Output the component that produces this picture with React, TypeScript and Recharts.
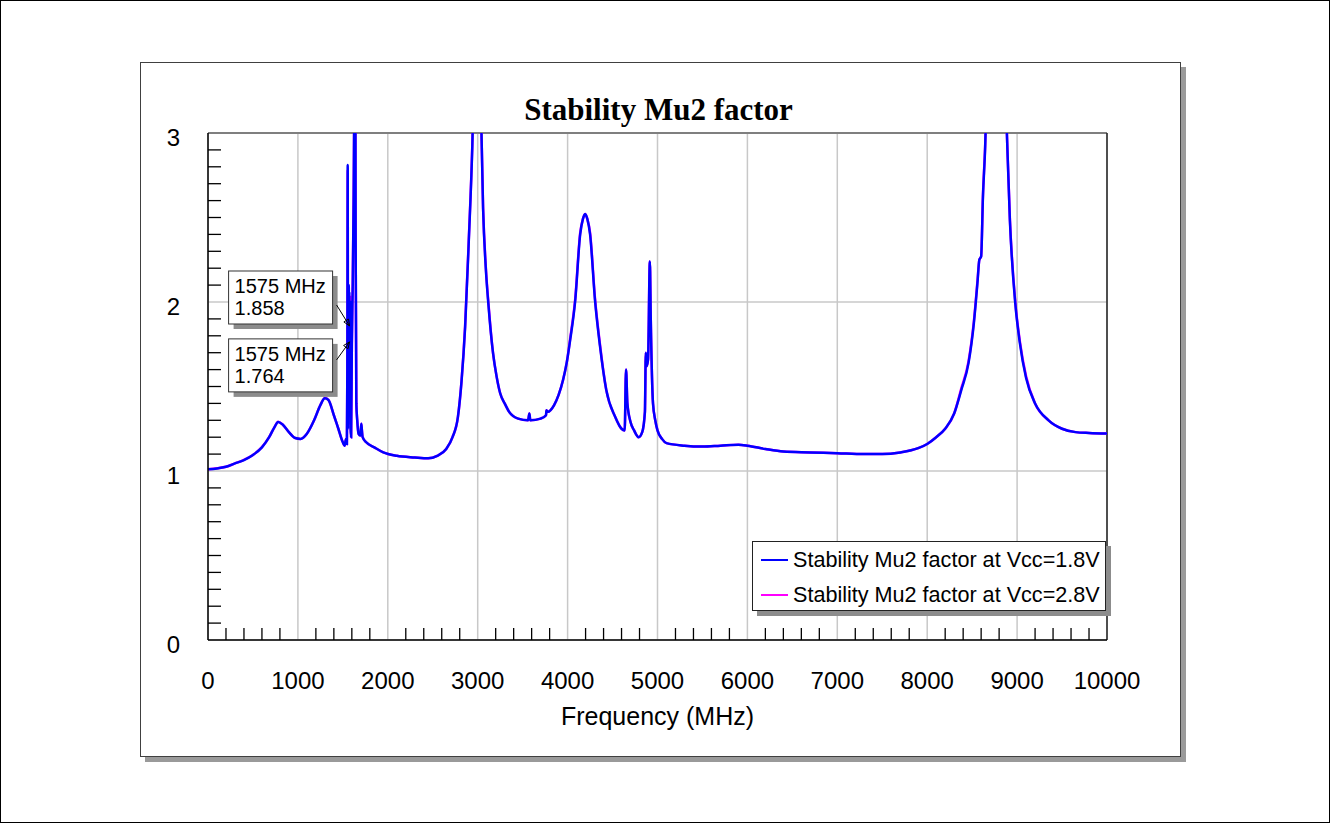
import {
  CartesianGrid,
  Line,
  LineChart,
  ReferenceDot,
  ReferenceLine,
  XAxis,
  YAxis,
} from "recharts";

const SANS = '"Liberation Sans", Arial, sans-serif';
const SERIF = '"Liberation Serif", "Times New Roman", serif';

// sweep frequencies (MHz)
const freqs = [
  0, 100, 200, 300, 400, 500, 600, 680, 740, 780, 830, 900, 970, 1030, 1100,
  1180, 1250, 1300, 1340, 1400, 1450, 1500, 1520, 1535, 1545, 1550, 1554, 1557,
  1560, 1563, 1566, 1569, 1572, 1575, 1578, 1582, 1586, 1592, 1600, 1610, 1620,
  1630, 1636, 1642, 1650, 1660, 1675, 1695, 1705, 1712, 1720, 1760, 1850, 1950,
  2100, 2300, 2450, 2550, 2650, 2720, 2780, 2820, 2860, 2900, 2940, 2970, 3000,
  3030, 3060, 3090, 3120, 3170, 3210, 3250, 3300, 3350, 3450, 3560, 3575, 3585,
  3700, 3760, 3765, 3780, 3850, 3900, 3950, 3990, 4030, 4085, 4140, 4170, 4195,
  4220, 4250, 4305, 4360, 4430, 4530, 4600, 4635, 4650, 4665, 4700, 4740, 4790,
  4830, 4860, 4870, 4880, 4895, 4915, 4925, 4950, 4975, 5000, 5050, 5100, 5300,
  5500, 5700, 5900, 6000, 6200, 6400, 6700, 7000, 7300, 7500, 7700, 7900, 8000,
  8100, 8200, 8300, 8380, 8460, 8520, 8560, 8580, 8600, 8620, 8645, 8670, 8780,
  8880, 8920, 8980, 9030, 9100, 9200, 9350, 9500, 9650, 9800, 10000,
];

// Mu2 at Vcc = 1.8 V
const mu2Vcc18 = [
  1.01, 1.015, 1.025, 1.045, 1.065, 1.095, 1.14, 1.2, 1.26, 1.29, 1.275, 1.23,
  1.195, 1.19, 1.22, 1.3, 1.39, 1.43, 1.42, 1.33, 1.25, 1.17, 1.15, 1.19, 1.16,
  1.6, 2.81, 1.25, 2.08, 1.55, 2.1, 1.7, 2.05, 1.858, 1.6, 2.0, 1.25, 1.2, 1.75,
  2.1, 2.6, 3.4, 4.2, 2.4, 1.4, 1.3, 1.22, 1.21, 1.28, 1.24, 1.2, 1.17, 1.14,
  1.11, 1.09, 1.08, 1.075, 1.09, 1.13, 1.2, 1.32, 1.53, 1.85, 2.35, 2.92, 3.6,
  4.5, 3.3, 2.55, 2.2, 1.98, 1.7, 1.56, 1.46, 1.4, 1.35, 1.31, 1.3, 1.34, 1.3,
  1.31, 1.33, 1.36, 1.35, 1.39, 1.45, 1.54, 1.64, 1.78, 2.01, 2.4, 2.49, 2.52,
  2.49, 2.4, 2.01, 1.74, 1.48, 1.32, 1.25, 1.24, 1.6, 1.4, 1.29, 1.24, 1.2,
  1.23, 1.35, 1.7, 1.62, 1.66, 2.24, 1.9, 1.4, 1.3, 1.24, 1.19, 1.165, 1.15,
  1.145, 1.15, 1.155, 1.15, 1.13, 1.115, 1.11, 1.105, 1.1, 1.1, 1.11, 1.135,
  1.16, 1.2, 1.25, 1.34, 1.48, 1.64, 1.88, 2.12, 2.25, 2.27, 2.62, 2.92, 3.4,
  4.5, 3.1, 2.48, 1.99, 1.76, 1.55, 1.4, 1.3, 1.25, 1.23, 1.225, 1.222,
];

// Mu2 at Vcc = 2.8 V
const mu2Vcc28 = [
  1.01, 1.016, 1.025, 1.045, 1.066, 1.095, 1.141, 1.2, 1.26, 1.292, 1.275,
  1.23, 1.195, 1.19, 1.221, 1.3, 1.39, 1.432, 1.42, 1.33, 1.25, 1.17, 1.15,
  1.19, 1.16, 1.58, 2.78, 1.27, 2.02, 1.6, 2.06, 1.72, 2.0, 1.764, 1.64, 2.03,
  1.27, 1.2, 1.76, 2.12, 2.62, 3.4, 4.2, 2.42, 1.4, 1.3, 1.22, 1.21, 1.28,
  1.24, 1.2, 1.17, 1.14, 1.11, 1.09, 1.08, 1.075, 1.09, 1.13, 1.2, 1.32, 1.53,
  1.86, 2.36, 2.93, 3.6, 4.5, 3.3, 2.56, 2.21, 1.99, 1.7, 1.56, 1.46, 1.4,
  1.35, 1.31, 1.3, 1.34, 1.3, 1.31, 1.33, 1.36, 1.35, 1.39, 1.45, 1.54, 1.64,
  1.79, 2.02, 2.41, 2.49, 2.52, 2.49, 2.41, 2.02, 1.75, 1.48, 1.32, 1.25, 1.24,
  1.6, 1.4, 1.29, 1.24, 1.2, 1.23, 1.35, 1.7, 1.62, 1.66, 2.24, 1.9, 1.4, 1.3,
  1.24, 1.19, 1.165, 1.15, 1.145, 1.15, 1.155, 1.15, 1.13, 1.115, 1.11, 1.105,
  1.1, 1.1, 1.11, 1.135, 1.16, 1.2, 1.25, 1.34, 1.49, 1.65, 1.89, 2.13, 2.25,
  2.27, 2.63, 2.93, 3.4, 4.5, 3.1, 2.49, 2.0, 1.77, 1.56, 1.4, 1.3, 1.25, 1.23,
  1.225, 1.222,
];

const xMajorTicks = [0, 1000, 2000, 3000, 4000, 5000, 6000, 7000, 8000, 9000, 10000];
const yMajorTicks = [0, 1, 2, 3];
const xAllTicks = Array.from({ length: 51 }, (_, i) => i * 200);
const yAllTicks = Array.from({ length: 31 }, (_, i) => i / 10);

const markerFreq = 1575;
const markerVcc18 = 1.858;
const markerVcc28 = 1.764;

const legendItems = [
  { label: "Stability Mu2 factor at Vcc=1.8V", color: "#0000ff" },
  { label: "Stability Mu2 factor at Vcc=2.8V", color: "#ff00ff" },
];

const data = freqs.map((f, i) => ({ f, a: mu2Vcc18[i], b: mu2Vcc28[i] }));

function XTick(props: any) {
  const { x, y, payload } = props;
  const v = payload.value as number;
  if (v % 1000 === 0) {
    return (
      <text
        x={x}
        y={y + 40}
        textAnchor="middle"
        dominantBaseline="central"
        fontFamily={SANS}
        fontSize={24}
        fill="#000"
      >
        {v}
      </text>
    );
  }
  return <line x1={x} x2={x} y1={y} y2={y - 12} stroke="#000" strokeWidth={1.3} />;
}

function YTick(props: any) {
  const { x, y, payload } = props;
  const v = payload.value as number;
  if (Number.isInteger(v)) {
    return (
      <text
        x={x - 28}
        y={y + 4}
        textAnchor="end"
        dominantBaseline="central"
        fontFamily={SANS}
        fontSize={24}
        fill="#000"
      >
        {v}
      </text>
    );
  }
  return <line x1={x} x2={x + 13} y1={y} y2={y} stroke="#000" strokeWidth={1.3} />;
}

// callout box with an arrow pointing at (cx, cy)
function Callout({
  cx,
  cy,
  boxDy,
  arrowFrom,
  lines,
}: {
  cx: number;
  cy: number;
  boxDy: number;
  arrowFrom: [number, number];
  lines: string[];
}) {
  const bx = cx - 121;
  const by = cy + boxDy;
  const w = 104;
  const h = 53;
  const sx = cx + arrowFrom[0];
  const sy = cy + arrowFrom[1];
  const ang = Math.atan2(cy - sy, cx - sx);
  const ah = 7;
  const p1 = [cx - ah * Math.cos(ang - 0.4), cy - ah * Math.sin(ang - 0.4)];
  const p2 = [cx - ah * Math.cos(ang + 0.4), cy - ah * Math.sin(ang + 0.4)];
  return (
    <g>
      <rect x={bx + 5} y={by + 5} width={w} height={h} fill="#8c8c8c" />
      <rect x={bx} y={by} width={w} height={h} fill="#fff" stroke="#333" strokeWidth={1} />
      {lines.map((t, i) => (
        <text
          key={i}
          x={bx + 6}
          y={by + 22 + i * 22}
          fontFamily={SANS}
          fontSize={20}
          fill="#000"
        >
          {t}
        </text>
      ))}
      <line x1={sx} y1={sy} x2={cx} y2={cy} stroke="#000" strokeWidth={1} />
      <polygon
        points={`${cx},${cy} ${p1[0]},${p1[1]} ${p2[0]},${p2[1]}`}
        fill="none"
        stroke="#000"
        strokeWidth={1}
      />
    </g>
  );
}

export default function App() {
  return (
    <div
      style={{
        position: "absolute",
        left: 0,
        top: 0,
        width: 1330,
        height: 823,
        background: "#fff",
        border: "1px solid #000",
        boxSizing: "border-box",
        overflow: "hidden",
      }}
    >
      {/* chart panel with drop shadow */}
      <div
        style={{
          position: "absolute",
          left: 139,
          top: 61,
          width: 1041,
          height: 695,
          background: "#fff",
          border: "1px solid #404040",
          boxSizing: "border-box",
          boxShadow: "5px 5px 0 #9a9a9a",
        }}
      />
      <div
        style={{
          position: "absolute",
          left: 208,
          width: 899,
          top: 92,
          textAlign: "center",
          fontFamily: SERIF,
          fontWeight: "bold",
          fontSize: 31,
          lineHeight: "34px",
        }}
      >
        Stability Mu2 factor
      </div>
      <div style={{ position: "absolute", left: -1, top: -1 }}>
        <LineChart
          width={1330}
          height={823}
          data={data}
          margin={{ top: 133, right: 223, bottom: 123, left: 148 }}
        >
          <CartesianGrid
            stroke="#c8c8c8"
            strokeWidth={1.5}
            verticalValues={xMajorTicks}
            horizontalValues={yMajorTicks}
          />
          <XAxis
            type="number"
            dataKey="f"
            domain={[0, 10000]}
            ticks={xAllTicks}
            interval={0}
            height={60}
            tickSize={0}
            tickMargin={0}
            tickLine={false}
            tick={<XTick />}
            axisLine={{ stroke: "#000", strokeWidth: 1.5 }}
            label={{
              value: "Frequency (MHz)",
              position: "bottom",
              offset: 7,
              fill: "#000",
              fontSize: 25,
              fontFamily: SANS,
            }}
          />
          <YAxis
            type="number"
            domain={[0, 3]}
            allowDataOverflow
            ticks={yAllTicks}
            interval={0}
            width={60}
            tickSize={0}
            tickMargin={0}
            tickLine={false}
            tick={<YTick />}
            axisLine={{ stroke: "#000", strokeWidth: 1.5 }}
          />
          <ReferenceLine y={3} stroke="#7f7f7f" strokeWidth={2} />
          <ReferenceLine x={10000} stroke="#222" strokeWidth={1.5} />
          <Line
            type="monotoneX"
            dataKey="b"
            stroke="#ff00ff"
            strokeWidth={2.5}
            dot={false}
            isAnimationActive={false}
          />
          <Line
            type="monotoneX"
            dataKey="a"
            stroke="#0000ff"
            strokeWidth={2.5}
            dot={false}
            isAnimationActive={false}
          />
          <ReferenceDot
            x={markerFreq}
            y={markerVcc18}
            r={0}
            shape={(p: any) => (
              <Callout
                cx={p.cx}
                cy={p.cy}
                boxDy={-55}
                arrowFrom={[-13, -21]}
                lines={[`${markerFreq} MHz`, `${markerVcc18}`]}
              />
            )}
          />
          <ReferenceDot
            x={markerFreq}
            y={markerVcc28}
            r={0}
            shape={(p: any) => (
              <Callout
                cx={p.cx}
                cy={p.cy}
                boxDy={-3}
                arrowFrom={[-13, 18]}
                lines={[`${markerFreq} MHz`, `${markerVcc28}`]}
              />
            )}
          />
        </LineChart>
      </div>
      {/* legend */}
      <div
        style={{
          position: "absolute",
          left: 751,
          top: 540,
          width: 354,
          height: 70,
          background: "#fff",
          border: "1px solid #222",
          boxSizing: "border-box",
          boxShadow: "5px 5px 0 #8c8c8c",
          fontFamily: SANS,
          fontSize: 21.6,
        }}
      >
        {legendItems.map((it, i) => (
          <div
            key={it.label}
            style={{
              position: "absolute",
              left: 8,
              top: 6 + i * 35,
              height: 24,
              display: "flex",
              alignItems: "center",
              whiteSpace: "nowrap",
            }}
          >
            <span
              style={{
                display: "inline-block",
                width: 27,
                height: 0,
                borderTop: `2px solid ${it.color}`,
                marginRight: 5,
              }}
            />
            {it.label}
          </div>
        ))}
      </div>
    </div>
  );
}
